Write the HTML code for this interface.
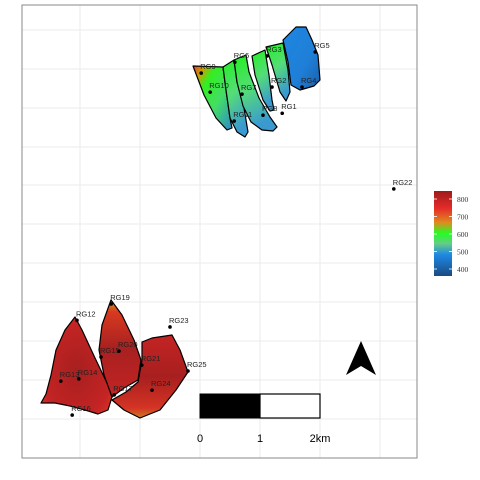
<!DOCTYPE html>
<html><head><meta charset="utf-8"><style>
body{margin:0;background:#fff;}
svg{display:block;font-family:"Liberation Sans",sans-serif;}
</style></head><body>
<svg width="480" height="480" viewBox="0 0 480 480">
<defs>
<linearGradient id="gTop" x1="0" y1="0" x2="1" y2="1">
<stop offset="0" stop-color="#e53935"/><stop offset="0.15" stop-color="#c8a000"/><stop offset="0.3" stop-color="#33ee22"/><stop offset="0.6" stop-color="#44dd66"/><stop offset="1" stop-color="#2a8acc"/></linearGradient>
<linearGradient id="gMid" x1="0" y1="0" x2="0.3" y2="1">
<stop offset="0" stop-color="#22f022"/><stop offset="0.5" stop-color="#55dd77"/><stop offset="1" stop-color="#3a9ad0"/></linearGradient>
<linearGradient id="gBlue" x1="0" y1="0" x2="1" y2="1">
<stop offset="0" stop-color="#1e86e0"/><stop offset="0.6" stop-color="#1f7fd8"/><stop offset="1" stop-color="#1a5fa8"/></linearGradient>
<radialGradient id="gRed" cx="0.5" cy="0.55" r="0.65">
<stop offset="0" stop-color="#a81f1f"/><stop offset="0.75" stop-color="#c42424"/><stop offset="1" stop-color="#dd3426"/></radialGradient>
<linearGradient id="gRedTop" x1="0" y1="0" x2="0" y2="1">
<stop offset="0" stop-color="#c9a020"/><stop offset="0.12" stop-color="#d83a20"/><stop offset="0.5" stop-color="#a82020"/><stop offset="1" stop-color="#c42424"/></linearGradient>
<linearGradient id="gRedBot" x1="0" y1="0" x2="0" y2="1">
<stop offset="0" stop-color="#c42424"/><stop offset="0.5" stop-color="#a81f1f"/><stop offset="0.88" stop-color="#d43424"/><stop offset="1" stop-color="#d07a20"/></linearGradient>
<linearGradient id="gLeg" x1="0" y1="0" x2="0" y2="1">
<stop offset="0" stop-color="#9e1b1b"/><stop offset="0.2" stop-color="#e52a2a"/><stop offset="0.37" stop-color="#e08a20"/><stop offset="0.5" stop-color="#22ff22"/><stop offset="0.62" stop-color="#66cc88"/><stop offset="0.75" stop-color="#1e88e5"/><stop offset="1" stop-color="#1a4a80"/></linearGradient>
</defs>
<rect x="22" y="5" width="395" height="453" fill="#fff"/>
<g id="grid" stroke="#ebebeb" stroke-width="1"></g>
<g stroke="#000" stroke-width="1.2" stroke-linejoin="round">
<path d="M193,66 L223,67 L226,90 L230,118 L232,128 L227,130 L216,118 L204,95 Z" fill="url(#gTop)"/>
<path d="M223,67 L234,60 L237,82 L244,108 L248,132 L245,137 L237,132 L230,118 L226,90 Z" fill="url(#gMid)"/>
<path d="M234,60 L246,55 L249,72 L259,98 L270,117 L277,127 L273,131 L262,130 L251,122 L243,106 L237,82 Z" fill="url(#gMid)"/>
<path d="M252,56 L265,50 L269,75 L272,100 L274,110 L270,111 L263,100 L255,75 Z" fill="url(#gMid)"/>
<path d="M266,47 L283,43 L288,70 L290,92 L286,101 L280,92 L272,65 Z" fill="url(#gMid)"/>
<path d="M283,40 L296,27 L306,27 L312,40 L318,55 L320,80 L314,86 L300,90 L291,85 L288,62 Z" fill="url(#gBlue)"/>
</g>
<g stroke="#000" stroke-width="1.2" stroke-linejoin="round">
<path d="M75,317 L82,330 L95,358 L108,385 L112,397 L108,410 L98,414 L85,410 L70,406 L55,403 L41,403 L46,394 L51,375 L56,350 L65,330 Z" fill="url(#gRed)"/>
<path d="M111,300 L122,315 L134,340 L141,360 L138,380 L124,388 L112,397 L104,375 L99,350 L102,325 Z" fill="url(#gRedTop)"/>
<path d="M142,342 L152,338 L172,335 L180,350 L188,372 L176,390 L160,410 L140,418 L124,410 L112,400 L126,392 L138,382 L142,360 Z" fill="url(#gRedBot)"/>
</g>
<g id="pts"></g>
<rect x="22" y="5" width="395" height="453" fill="none" stroke="#888" stroke-width="1"/>
<g>
<rect x="200" y="394" width="60" height="24" fill="#000" stroke="#000"/>
<rect x="260" y="394" width="60" height="24" fill="#fff" stroke="#000" stroke-width="1.2"/>
<text x="200" y="442" font-size="11" text-anchor="middle">0</text>
<text x="260" y="442" font-size="11" text-anchor="middle">1</text>
<text x="320" y="442" font-size="11" text-anchor="middle">2km</text>
</g>
<path d="M361,341 L376,375 L361,366 L346,375 Z" fill="#000"/>
<g>
<rect x="434" y="191" width="18" height="85" fill="url(#gLeg)"/>
<g id="legTicks"></g>
</g>
<script>
const names=["RG1","RG2","RG3","RG4","RG5","RG6","RG7","RG8","RG9","RG10","RG11","RG12","RG13","RG14","RG15","RG16","RG17","RG19","RG20","RG21","RG22","RG23","RG24","RG25"];
const eastings=[1.37,1.2,1.12,1.7,1.92,0.58,0.7,1.05,0.02,0.17,0.57,-2.05,-2.32,-2.02,-1.65,-2.13,-1.43,-1.48,-1.35,-0.97,3.23,-0.5,-0.8,-0.2];
const northings=[7.84,8.51,9.31,8.51,9.41,9.15,8.33,7.79,8.87,8.38,7.64,2.53,0.97,1.03,1.59,0.1,0.62,2.95,1.74,1.38,5.9,2.36,0.74,1.23];
const legendValues=[800,700,600,500,400];
const gridX=[80,140,200,260,320,380];
const gridY=[30,69,108,147,185,224,263,302,341,380,419];
const sx=v=>200+v*60, sy=v=>419-v*39;
const legY=v=>199+(800-v)*0.175;
const NS='http://www.w3.org/2000/svg';
const grid=document.getElementById('grid');
gridX.forEach(x=>{const l=document.createElementNS(NS,'line');l.setAttribute('x1',x);l.setAttribute('x2',x);l.setAttribute('y1',5);l.setAttribute('y2',458);


grid.appendChild(l);});
gridY.forEach(y=>{const l=document.createElementNS(NS,'line');l.setAttribute('y1',y);l.setAttribute('y2',y);l.setAttribute('x1',22);l.setAttribute('x2',417);


grid.appendChild(l);});
const pts=document.getElementById('pts');
names.forEach((n,i)=>{const x=sx(eastings[i]),y=sy(northings[i]);
const c=document.createElementNS(NS,'circle');c.setAttribute('cx',x);c.setAttribute('cy',y);c.setAttribute('r',1.8);c.setAttribute('fill','#000');


pts.appendChild(c);
const t=document.createElementNS(NS,'text');t.setAttribute('x',x-1);t.setAttribute('y',y-4);t.setAttribute('font-size','7.5');t.setAttribute('fill','#222');t.textContent=n;


pts.appendChild(t);});
const lt=document.getElementById('legTicks');
legendValues.forEach(v=>{const y=legY(v);
[[434,437],[449,452]].forEach(([a,b])=>{const l=document.createElementNS(NS,'line');l.setAttribute('x1',a);l.setAttribute('x2',b);l.setAttribute('y1',y);l.setAttribute('y2',y);l.setAttribute('stroke','#fff');l.setAttribute('stroke-width','0.8');


lt.appendChild(l);});
const t=document.createElementNS(NS,'text');t.setAttribute('x',457);t.setAttribute('y',y+3);t.setAttribute('font-size','7.5');t.setAttribute('font-family','Liberation Serif, serif');t.setAttribute('fill','#333');t.textContent=v;


lt.appendChild(t);});
</script>
</svg>
</body></html>
